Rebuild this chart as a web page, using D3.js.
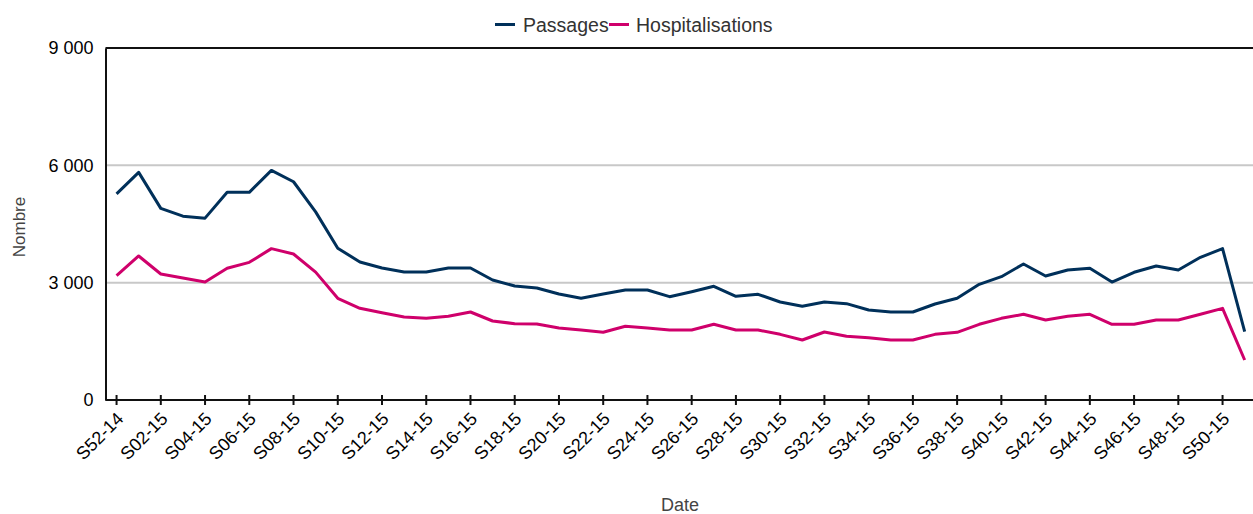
<!DOCTYPE html>
<html><head><meta charset="utf-8">
<script src="https://cdn.jsdelivr.net/npm/d3@7"></script>
<style>body{margin:0;background:#fff}svg{display:block;font-family:"Liberation Sans",Arial,sans-serif}</style>
</head><body><svg id="c" width="1253" height="514"></svg>
<script>
const weeks = ["S52-14","S01-15","S02-15","S03-15","S04-15","S05-15","S06-15","S07-15","S08-15","S09-15",
"S10-15","S11-15","S12-15","S13-15","S14-15","S15-15","S16-15","S17-15","S18-15","S19-15",
"S20-15","S21-15","S22-15","S23-15","S24-15","S25-15","S26-15","S27-15","S28-15","S29-15",
"S30-15","S31-15","S32-15","S33-15","S34-15","S35-15","S36-15","S37-15","S38-15","S39-15",
"S40-15","S41-15","S42-15","S43-15","S44-15","S45-15","S46-15","S47-15","S48-15","S49-15",
"S50-15","S51-15"];
const passages = [5270,5820,4900,4700,4650,5310,5310,5870,5580,4810,
3880,3530,3375,3273,3273,3375,3375,3068,2915,2864,
2710,2600,2710,2813,2813,2642,2770,2907,2651,2702,
2506,2395,2506,2463,2300,2250,2250,2455,2600,2958,
3153,3478,3171,3324,3367,3017,3265,3426,3324,3649,
3870,1747];
const hospitalisations = [3178,3682,3222,3120,3017,3367,3520,3870,3733,3270,
2600,2344,2233,2122,2088,2140,2250,2020,1951,1943,
1841,1790,1731,1884,1841,1790,1790,1935,1790,1790,
1679,1534,1739,1628,1590,1534,1534,1679,1731,1935,
2088,2191,2046,2140,2191,1935,1935,2046,2046,2191,
2344,1023];
const yTicks = [0,3000,6000,9000];
const seriesNames = ["Passages","Hospitalisations"];
const colors = ["#00305a","#cf006b"];

const svg = d3.select("#c");
const mLeft = 105.5, mTop = 48, mBottom = 400;
const step = 22.12;
const x = d3.scaleBand().domain(weeks).range([mLeft, mLeft + step*weeks.length]).padding(0);
const y = d3.scaleLinear().domain([0,9000]).range([mBottom, mTop]);
const cx = d => x(d) + x.bandwidth()/2;

// grid
svg.append("g").selectAll("line").data([3000,6000]).join("line")
  .attr("x1", mLeft).attr("x2", 1253).attr("y1", d=>y(d)).attr("y2", d=>y(d))
  .attr("stroke","#c8c8c8").attr("stroke-width",2);

// top border
svg.append("line").attr("x1",mLeft).attr("x2",1253).attr("y1",mTop).attr("y2",mTop)
  .attr("stroke","#111").attr("stroke-width",2);

// y axis
const yAxis = d3.axisLeft(y).tickValues(yTicks).tickSize(0).tickPadding(12)
  .tickFormat(d => d3.format(",")(d).replace(/,/g," "));
const gy = svg.append("g").attr("transform",`translate(${mLeft},0)`).call(yAxis);
gy.select(".domain").attr("stroke","#111").attr("stroke-width",2);
gy.selectAll("text").attr("font-size",18).attr("fill","#000");

// x axis
const labWeeks = weeks.filter((d,i)=>i%2===0);
const xAxis = d3.axisBottom(x).tickValues(labWeeks).tickSize(0).tickFormat("");
const gx = svg.append("g").attr("transform",`translate(0,${mBottom})`).call(xAxis);
gx.select(".domain").attr("stroke","#111").attr("stroke-width",2).attr("d",`M${mLeft},0H1253`);
gx.selectAll(".tick line").remove();
svg.append("g").selectAll("line").data(labWeeks).join("line")
  .attr("x1",d=>cx(d)).attr("x2",d=>cx(d)).attr("y1",mBottom-5).attr("y2",mBottom+5)
  .attr("stroke","#111").attr("stroke-width",2);
svg.append("g").selectAll("text").data(labWeeks).join("text")
  .attr("transform",d=>`translate(${cx(d)-1},${mBottom+11}) rotate(-45)`)
  .attr("text-anchor","end").attr("dy","0.7em")
  .attr("font-size",18).attr("fill","#000").text(d=>d);

// lines
const line = d3.line().x((d,i)=>cx(weeks[i])).y(d=>y(d));
[passages, hospitalisations].forEach((s,k)=>{
  svg.append("path").datum(s).attr("d",line).attr("fill","none")
    .attr("stroke",colors[k]).attr("stroke-width",3).attr("stroke-linejoin","round");
});

// axis titles
svg.append("text").attr("transform","translate(25,227) rotate(-90)").attr("text-anchor","middle")
  .attr("font-size",17).attr("fill","#444").text("Nombre");
svg.append("text").attr("x",680).attr("y",511).attr("text-anchor","middle")
  .attr("font-size",18).attr("fill","#444").text("Date");

// legend
const legX = [495, 609];
const legT = [523, 636];
seriesNames.forEach((n,k)=>{
  svg.append("line").attr("x1",legX[k]).attr("x2",legX[k]+20).attr("y1",24.5).attr("y2",24.5)
    .attr("stroke",colors[k]).attr("stroke-width",3);
  svg.append("text").attr("x",legT[k]).attr("y",32).attr("font-size",19.5).attr("fill","#333").text(n);
});
</script></body></html>
